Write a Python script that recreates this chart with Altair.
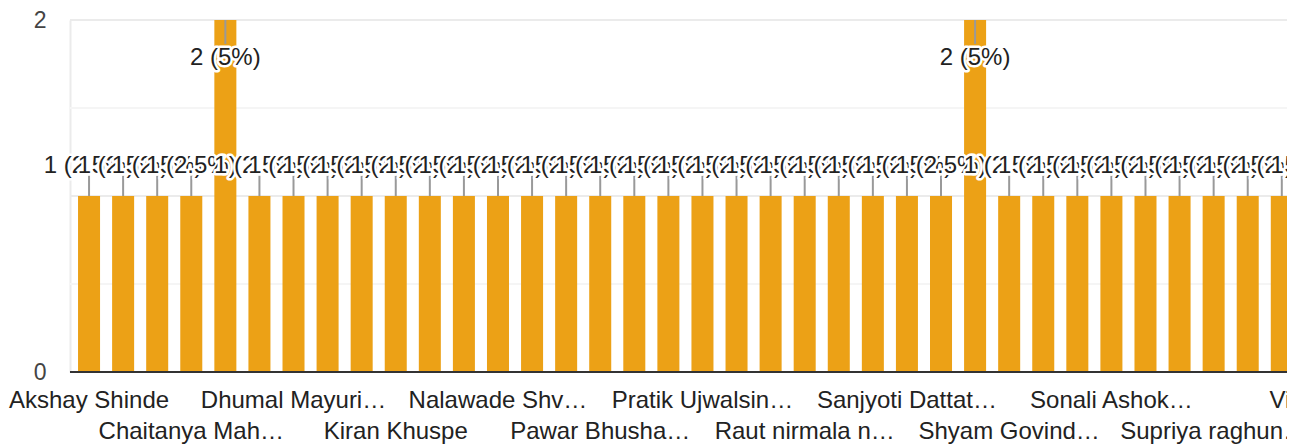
import altair as alt
import pandas as pd

# ---- data ----
counts = [1, 1, 1, 1, 2, 1, 1, 1, 1, 1, 1, 1, 1, 1, 1, 1, 1, 1, 1,
          1, 1, 1, 1, 1, 1, 1, 2, 1, 1, 1, 1, 1, 1, 1, 1, 1, 1, 1]
names = ["Akshay Shinde", "", "", "Chaitanya Mah…", "", "",
         "Dhumal Mayuri…", "", "", "Kiran Khuspe", "", "",
         "Nalawade Shv…", "", "", "Pawar Bhusha…", "", "",
         "Pratik Ujwalsin…", "", "", "Raut nirmala n…", "", "",
         "Sanjyoti Dattat…", "", "", "Shyam Govind…", "", "",
         "Sonali Ashok…", "", "", "Supriya raghun…", "", "",
         "Vijay Pol", ""]
y_ticks = [0, 1, 2]
grid_major = [1, 2]
grid_minor = [0.5, 1.5]

total = sum(counts)
n = len(counts)
idx = list(range(n))
pct_labels = [f"{c} ({c / total * 100:g}%)" for c in counts]

bars_df = pd.DataFrame({"idx": idx, "count": counts, "name": names,
                        "row": [(i // 3) % 2 for i in idx]})
lab_rows = []
for i in idx:
    for kind in ["halo", "text"]:
        lab_rows.append({"idx": i, "count": counts[i], "lab": pct_labels[i], "kind": kind})
labels_df = pd.DataFrame(lab_rows)
grid_df = pd.DataFrame({"v": grid_major + grid_minor,
                        "major": [True] * len(grid_major) + [False] * len(grid_minor)})

W, H = 1217, 352
FONT = "Liberation Sans"
ORANGE = "#eca116"

xs = alt.Scale(domain=idx, range=[2, 1297], paddingInner=0.354, paddingOuter=0.177)
ys = alt.Scale(domain=[0, 2], nice=False)
X = alt.X("idx:O", scale=xs, axis=None)

grid = alt.Chart(grid_df).mark_rule(strokeWidth=2).encode(
    y=alt.Y("v:Q", scale=ys),
    color=alt.condition("datum.major", alt.value("#ebebeb"), alt.value("#f5f5f5")),
)

bars = alt.Chart(bars_df).mark_bar(clip=True, color=ORANGE).encode(
    x=X,
    y=alt.Y("count:Q", scale=ys, title=None,
            axis=alt.Axis(values=y_ticks, grid=False, ticks=False, domain=True,
                          domainColor="#ebebeb", domainWidth=2, labelFontSize=23,
                          labelColor="#444", labelPadding=24, labelFont=FONT,
                          format="d")),
)

baseline = alt.Chart(pd.DataFrame({"v": [0]})).mark_rule(color="#333", strokeWidth=2).encode(
    y=alt.Y("v:Q", scale=ys)
)

leaders = alt.Chart(bars_df).transform_calculate(
    l0="datum.count >= 2 ? datum.count - 0.136 : datum.count + 0.12"
).mark_rule(color="#999", strokeWidth=2).encode(
    x=X, y=alt.Y("l0:Q", scale=ys), y2="count:Q"
)

texts = alt.Chart(labels_df).transform_calculate(
    ly="datum.count >= 2 ? datum.count - 0.216 : datum.count + 0.168"
).mark_text(font=FONT, fontSize=24, baseline="middle", align="center",
            stroke="white", strokeJoin="round").encode(
    x=X,
    y=alt.Y("ly:Q", scale=ys),
    text="lab:N",
    fill=alt.condition("datum.kind == 'halo'", alt.value("white"), alt.value("#222")),
    strokeWidth=alt.condition("datum.kind == 'halo'", alt.value(5), alt.value(0)),
)

xlab1 = alt.Chart(bars_df).transform_filter("datum.name != '' && datum.row == 0").mark_text(
    font=FONT, fontSize=24, baseline="alphabetic", align="center", color="#222"
).encode(x=X, y=alt.value(388), text="name:N")
xlab2 = alt.Chart(bars_df).transform_filter("datum.name != '' && datum.row == 1").mark_text(
    font=FONT, fontSize=24, baseline="alphabetic", align="center", color="#222"
).encode(x=X, y=alt.value(419), text="name:N")

chart = alt.layer(grid, bars, baseline, leaders, texts, xlab1, xlab2).properties(
    width=W, height=H,
    autosize=alt.AutoSizeParams(type="none"),
    padding={"left": 62, "top": 12, "right": 0, "bottom": 73},
).configure_view(stroke=None).configure(background="white")

chart.save("out.html", embed_options={"renderer": "svg", "actions": False})
